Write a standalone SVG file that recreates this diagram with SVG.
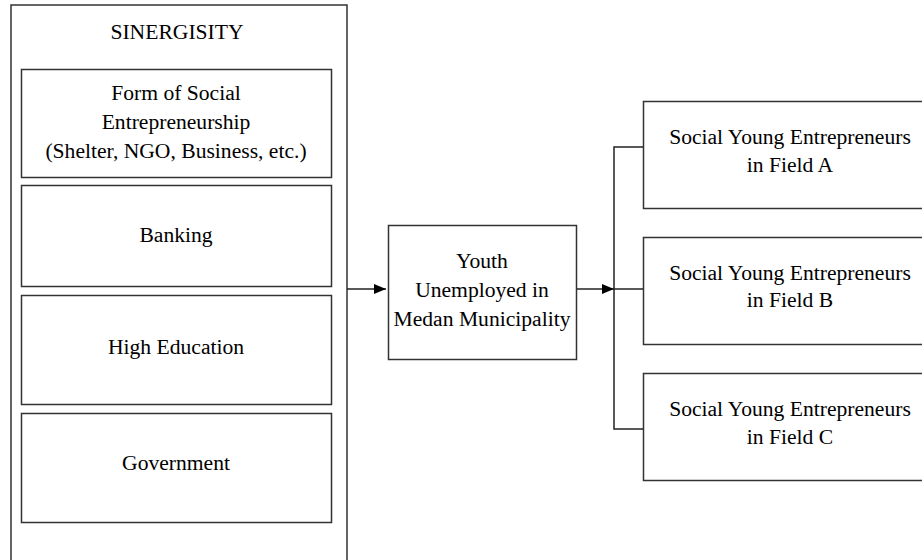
<svg xmlns="http://www.w3.org/2000/svg" width="922" height="560" viewBox="0 0 922 560">
<defs>
<style>
.box{fill:#fff;stroke:#333;stroke-width:1.5}
.t{font-family:"Liberation Serif","Times New Roman",serif;font-size:21.6px;fill:#000;text-anchor:middle}
.ln{fill:none;stroke:#222;stroke-width:1.5}
</style>
<marker id="ah" markerWidth="12" markerHeight="12" refX="12" refY="6" orient="auto" markerUnits="userSpaceOnUse">
<path d="M0,1 L12,6 L0,11 z" fill="#000"/>
</marker>
</defs>
<rect width="922" height="560" fill="#fff"/>
<g id="sinergisity">
<rect class="box" x="11" y="5" width="336" height="565"/>
<text class="t" x="177" y="39">SINERGISITY</text>
</g>
<g id="form">
<rect class="box" x="21.5" y="69.5" width="310" height="108"/>
<text class="t" x="176" y="100">Form of Social</text>
<text class="t" x="176" y="129">Entrepreneurship</text>
<text class="t" x="176" y="158">(Shelter, NGO, Business, etc.)</text>
</g>
<g id="banking">
<rect class="box" x="21.5" y="185.5" width="310" height="101"/>
<text class="t" x="176" y="242">Banking</text>
</g>
<g id="education">
<rect class="box" x="21.5" y="295.5" width="310" height="109"/>
<text class="t" x="176" y="354">High Education</text>
</g>
<g id="government">
<rect class="box" x="21.5" y="413.5" width="310" height="109"/>
<text class="t" x="176" y="470">Government</text>
</g>
<g id="youth">
<rect class="box" x="388.5" y="225.5" width="188" height="134"/>
<text class="t" x="482" y="268">Youth</text>
<text class="t" x="482" y="297">Unemployed in</text>
<text class="t" x="482" y="326">Medan Municipality</text>
</g>
<g id="fieldA">
<rect class="box" x="643.5" y="101.5" width="290" height="107"/>
<text class="t" x="790" y="144">Social Young Entrepreneurs</text>
<text class="t" x="790" y="172">in Field A</text>
</g>
<g id="fieldB">
<rect class="box" x="643.5" y="237.5" width="290" height="107"/>
<text class="t" x="790" y="280">Social Young Entrepreneurs</text>
<text class="t" x="790" y="307">in Field B</text>
</g>
<g id="fieldC">
<rect class="box" x="643.5" y="373.5" width="290" height="107"/>
<text class="t" x="790" y="416">Social Young Entrepreneurs</text>
<text class="t" x="790" y="444">in Field C</text>
</g>
<g id="connectors">
<line class="ln" x1="347" y1="289" x2="386" y2="289" marker-end="url(#ah)"/>
<line class="ln" x1="577" y1="289" x2="614" y2="289" marker-end="url(#ah)"/>
<polyline class="ln" points="643,147 614,147 614,429 643,429"/>
<line class="ln" x1="614" y1="289" x2="643" y2="289"/>
</g>
</svg>
